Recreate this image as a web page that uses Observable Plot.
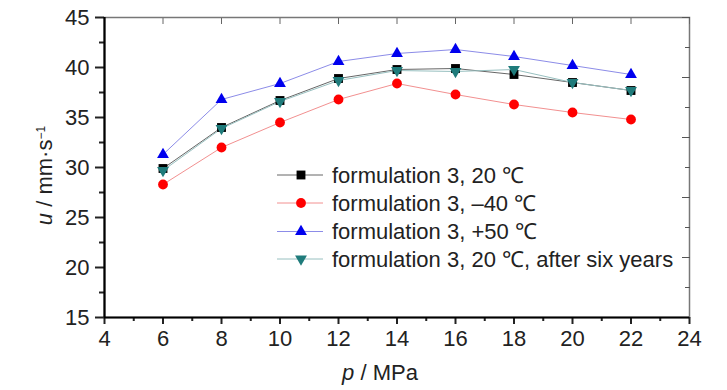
<!DOCTYPE html>
<html>
<head>
<meta charset="utf-8">
<script src="https://cdn.jsdelivr.net/npm/d3@7"></script>
<script src="https://cdn.jsdelivr.net/npm/@observablehq/plot@0.6"></script>
<style>
  html, body { margin: 0; padding: 0; background: #fff; }
  #wrap { position: relative; width: 727px; height: 390px; overflow: hidden; }
  #legend { position: absolute; left: 0; top: 0; pointer-events: none; }
</style>
</head>
<body>
<div id="wrap"></div>
<script>
// ---- data ----
const pressure = [6, 8, 10, 12, 14, 16, 18, 20, 22];
const u20      = [29.9, 34.0, 36.7, 38.9, 39.8, 39.9, 39.3, 38.5, 37.7];
const uMinus40 = [28.3, 32.0, 34.5, 36.8, 38.4, 37.3, 36.3, 35.5, 34.8];
const uPlus50  = [31.3, 36.8, 38.4, 40.6, 41.4, 41.8, 41.1, 40.2, 39.3];
const u20Aged  = [29.7, 33.9, 36.6, 38.7, 39.7, 39.6, 39.8, 38.5, 37.7];
const seriesNames = [
  "formulation 3, 20 \u2103",
  "formulation 3, \u201340 \u2103",
  "formulation 3, +50 \u2103",
  "formulation 3, 20 \u2103, after six years"
];
const xDomain = [4, 24];
const yDomain = [15, 45];
const xTicks = [4, 6, 8, 10, 12, 14, 16, 18, 20, 22, 24];
const xMinorTicks = [5, 7, 9, 11, 13, 15, 17, 19, 21, 23];
const yTicks = [15, 20, 25, 30, 35, 40, 45];
const yMinorTicks = [17.5, 22.5, 27.5, 32.5, 37.5, 42.5];
const rightLongTicks = [15, 21, 27, 33, 39, 45];
const rightShortTicks = [18, 24, 30, 36, 42];

// ---- styles ----
const markerColors = ["#000000", "#ff0000", "#0000ee", "#1f7b7b"];
const lineColors = ["#666666", "#f29090", "#8c8ce8", "#98c0c0"];
const symbols = ["square", "circle", "triangle", "triangle"];
const rotations = [0, 0, 0, 180];
const radii = [5.0, 4.9, 4.4, 4.4];
const font = "'Liberation Sans Narrow', 'Arial Narrow', 'Liberation Sans', Arial, sans-serif";

const seriesValues = [u20, uMinus40, uPlus50, u20Aged];
const tables = seriesValues.map((vals, i) =>
  pressure.map((p, j) => ({p, u: vals[j], series: seriesNames[i]})));

const lineMarks = tables.map((t, i) =>
  Plot.line(t, {x: "p", y: "u", stroke: lineColors[i], strokeWidth: 1}));
const dotMarks = tables.map((t, i) =>
  Plot.dot(t, {x: "p", y: "u", symbol: symbols[i], r: radii[i], fill: markerColors[i], stroke: "none", rotate: rotations[i]}));

const chart = Plot.plot({
  width: 727,
  height: 390,
  marginLeft: 104,
  marginRight: 38,
  marginTop: 17,
  marginBottom: 73,
  x: {domain: xDomain},
  y: {domain: yDomain},
  style: {fontFamily: font, fontSize: "22px", color: "#222", background: "#fff", overflow: "visible"},
  marks: [
    Plot.frame({stroke: "#777", strokeWidth: 1.5}),
    // top & right inward ticks
    Plot.axisX({anchor: "top", ticks: xTicks, tickSize: -6, tickFormat: () => "", label: null, stroke: "#666"}),
    Plot.axisY({anchor: "right", ticks: rightLongTicks, tickSize: -8, tickFormat: () => "", label: null, stroke: "#555"}),
    Plot.axisY({anchor: "right", ticks: rightShortTicks, tickSize: -5, tickFormat: () => "", label: null, stroke: "#555"}),
    // bottom axis
    Plot.axisX({anchor: "bottom", ticks: xTicks, tickSize: 7, tickWidth: 2, tickPadding: 6, strokeWidth: 2,
      label: "p / MPa", labelAnchor: "center", labelArrow: "none", labelOffset: 62}),
    Plot.axisX({anchor: "bottom", ticks: xMinorTicks, tickSize: 4, strokeWidth: 2, tickFormat: () => "", label: null}),
    // left axis
    Plot.axisY({anchor: "left", ticks: yTicks, tickSize: 9, strokeWidth: 2, tickPadding: 6,
      label: "u / mm\u00b7s-1", labelAnchor: "center", labelArrow: "none", labelOffset: 68}),
    Plot.axisY({anchor: "left", ticks: yMinorTicks, tickSize: 5, strokeWidth: 2, tickFormat: () => "", label: null}),
    Plot.ruleX([xDomain[0]], {stroke: "#000", strokeWidth: 2.2}),
    Plot.ruleY([yDomain[0]], {stroke: "#000", strokeWidth: 2.2}),
    ...lineMarks,
    ...dotMarks
  ]
});

document.getElementById("wrap").appendChild(chart);

// rich text for axis labels
const svg = d3.select(chart);
svg.selectAll("[aria-label='x-axis label'] text").each(function () {
  const t = d3.select(this); t.text("").attr("dx", -17);
  t.append("tspan").attr("font-style", "italic").text("p");
  t.append("tspan").text(" / MPa");
});
svg.selectAll("[aria-label='y-axis label'] text").each(function () {
  const t = d3.select(this); t.text("").attr("dx", -8);
  t.append("tspan").attr("font-style", "italic").text("u");
  t.append("tspan").text(" / mm\u00b7s");
  t.append("tspan").attr("font-size", "12px").attr("dy", "-0.6em").text("\u22121");
});

// legend overlay
const leg = d3.select("#wrap").append("svg").attr("id", "legend")
  .attr("width", 727).attr("height", 390)
  .style("font-family", font).style("font-size", "22px");
const rowY = [175, 203, 231.5, 259];
const symbolMap = {square: d3.symbolSquare, circle: d3.symbolCircle, triangle: d3.symbolTriangle};
seriesNames.forEach((name, i) => {
  const g = leg.append("g").attr("transform", `translate(0,${rowY[i]})`);
  g.append("line").attr("x1", 277).attr("x2", 323).attr("y1", 0).attr("y2", 0)
    .attr("stroke", lineColors[i]).attr("stroke-width", 1);
  g.append("path")
    .attr("d", d3.symbol(symbolMap[symbols[i]], Math.PI * radii[i] * radii[i])())
    .attr("transform", `translate(301,0) rotate(${rotations[i]})`)
    .attr("fill", markerColors[i]);
  g.append("text").attr("x", 332).attr("dy", "0.36em").attr("fill", "#222").text(name);
});
</script>
</body>
</html>
